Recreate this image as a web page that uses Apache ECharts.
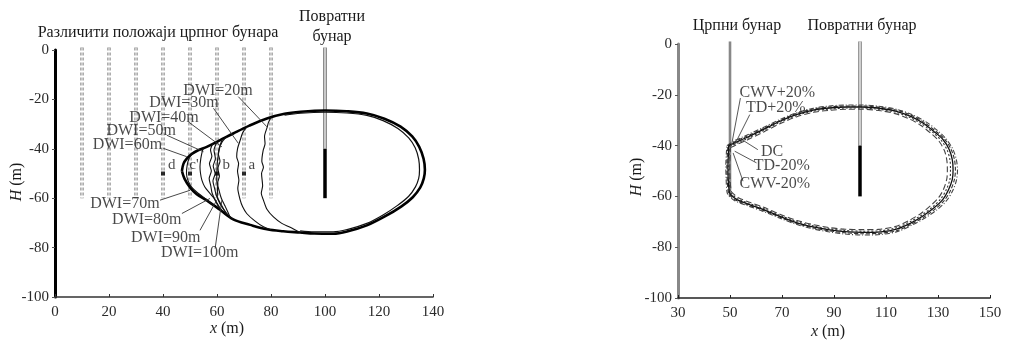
<!DOCTYPE html>
<html>
<head>
<meta charset="utf-8">
<script src="https://cdn.jsdelivr.net/npm/echarts@6/dist/echarts.min.js"></script>
<style>
  html, body { margin: 0; padding: 0; background: #fff; }
  #chart { width: 1011px; height: 342px; }
</style>
</head>
<body>
<div id="chart"></div>
<script>
// ---------- Panel (a): different pumping-well positions ----------
const wellXLeft = [10, 20, 30, 40, 50, 60, 70, 80];       // candidate pumping wells
const wellTop = 1, wellBottom = -60;
const markerX = [40, 50, 60, 70];                           // well markers d, c, b, a
const markerY = -50;
const markerNames = ['d', "c'", 'b', 'a'];
const returnWellX = 100;
const screenTop = -40, screenBottom = -60;

// outer envelope of the thermal plume (closed loop, nose at x≈47)
const outerLoop = [
  [47,-49],[47.6,-46],[48.8,-44],[50.5,-42.2],[53,-40.6],[56.2,-39.2],[61,-36.6],[66,-33.8],
  [72,-30.6],[78.5,-27.7],[85,-25.8],[91,-25],[100,-24.5],[108,-24.8],[115.5,-25.7],[122,-27.8],
  [128,-31],[132.3,-35],[134.9,-39.2],[136.5,-44],[137,-48.5],[136.6,-52],[135.3,-55.6],
  [132.5,-59.6],[128.2,-63.4],[122,-67.5],[115.5,-71],[108.5,-73.4],[103,-74.4],[96,-74.3],
  [90.8,-73.9],[84.5,-73.4],[78.5,-72.6],[72.3,-70.8],[66,-68.6],[61,-64.6],[56.2,-60.9],
  [52.5,-58.4],[50,-55.6],[48,-52.2],[47,-49]
];
// slightly inner right-hand envelope
const innerRight = [
  [85,-26.4],[91,-25.6],[100,-25.2],[108,-25.5],[115.5,-26.5],[121.5,-28.6],[127,-31.8],
  [131,-35.6],[133.4,-39.6],[134.7,-44.2],[135,-48.6],[134.7,-52],[133.5,-55.4],[131,-59.2],
  [127,-62.8],[121.5,-66.8],[115.5,-70.2],[108.5,-72.6],[103,-73.6],[96,-73.6],[90.8,-73.2]
];
// fronts of the individual DWI contours
const front20 = [[80,-27.2],[79,-29.5],[78.6,-31.2],[77.6,-35],[77.8,-38],[77.1,-40.6],[76.6,-45],[77.2,-47.5],[76.5,-50],[76.9,-55],[76.4,-58],[77.2,-60.8],[78.5,-64.5],[80.9,-67.6],[84,-70.2],[87.1,-71.8],[90.8,-73.9]];
const front30 = [[71,-31.1],[69.5,-33.5],[68.6,-36.5],[67.6,-40],[67.3,-43.2],[68,-46],[67.6,-49],[68.1,-52.7],[67.7,-56],[68.6,-60.8],[69.5,-63.5],[71,-66.2],[74,-69.2],[77.2,-71.6],[80,-72.8]];
const front40 = [[63.5,-35.2],[61.8,-37.4],[60.9,-40],[60.2,-44.6],[60,-48],[59.9,-52.7],[60.2,-56],[60.1,-59.4],[61,-62],[62.4,-64.4],[64,-66.6],[66,-68.6]];
const front50 = [[55,-39.7],[54.5,-41.2],[54,-44],[53.7,-47.3],[53.9,-50],[54.4,-52.7],[55.5,-55.5],[57.4,-58.1],[59,-60.2],[61,-64.6]];
const front70 = [[51,-41.9],[49.6,-44],[48.9,-47],[48.7,-50],[49.3,-53],[50.6,-55.5],[53,-58],[56,-60.4],[59,-63]];
const front80 = [[58.5,-37.9],[57.6,-40.5],[58.1,-43],[57.2,-46],[57.9,-49],[57.1,-52],[57.7,-55],[58.2,-58],[59.5,-61],[62,-65.4]];
const front90 = [[60,-37.2],[58.9,-40.5],[59.4,-44],[58.6,-47],[59.3,-50],[58.5,-53],[59.1,-56],[59.8,-59],[61.5,-62.5],[63.5,-66.6]];
const front100 = [[62,-36.1],[61,-39],[60.5,-42],[61.1,-45],[60.3,-48],[60.9,-51],[60.2,-54],[60.8,-57],[61.6,-60],[63,-63.2],[65,-68]];

// DWI annotations: text, text anchor, leader start, leader end
const dwiLabels = ['DWI=20m','DWI=30m','DWI=40m','DWI=50m','DWI=60m','DWI=70m','DWI=80m','DWI=90m','DWI=100m'];
const dwiAnchor = [[60.4,-16.5],[47.8,-21.4],[40.4,-27.3],[31.9,-32.7],[26.8,-38.5],[25.9,-62.4],[34,-68.9],[41,-75.9],[53.6,-82.2]];
const dwiLeader = [
  [[67.9,-18.9],[78.5,-31.1]], [[58.7,-23.6],[67.9,-37.8]], [[49.4,-29.1],[61.8,-39.2]],
  [[41.4,-34.5],[55,-41.2]],   [[40.1,-39.8],[48.8,-43.2]], [[38.9,-60.8],[50,-56.8]],
  [[47,-66.2],[57.4,-60.1]],   [[53.7,-73],[59.9,-60.8]],   [[59.3,-80.4],[61.8,-60.8]]
];
const letterPos = [[43.2,-46.6],[51.5,-46.6],[63.4,-46.6],[72.9,-46.6]];

// ---------- Panel (b): sensitivity of the plume ----------
const pumpWellRight = 50;
const contourDC = [[49.5,-40],[52,-38.8],[56,-37],[62.7,-33.7],[69,-30.5],[75.5,-27.8],[82,-26],[88.3,-25.2],[95,-24.8],[101,-24.8],[108,-25.4],[114,-26.5],[119.5,-28.5],[124.2,-31.1],[128.5,-34.5],[131.9,-37.6],[134.3,-41.5],[135.5,-45.5],[135.8,-49.5],[135.5,-53.3],[134,-57.5],[131.9,-61.2],[128.5,-64.5],[124.2,-67.7],[119.5,-70.5],[114,-72.9],[108,-74],[101,-74.2],[94,-73.9],[88.3,-73.2],[82,-72],[75.5,-70.3],[69,-67.8],[62.7,-65.1],[57,-63],[52.5,-61.2],[50.5,-59.5],[49.8,-58.5],[49.3,-53],[49.2,-48.1],[49.4,-43],[49.5,-40]];
const contourCWVp = [[48.8,-40],[51.5,-38.2],[55.5,-36.3],[62.5,-33],[69,-29.8],[75.5,-27.1],[82,-25.3],[88.3,-24.4],[95,-24],[101,-24],[108,-24.6],[114.5,-25.8],[120,-27.8],[125,-30.4],[129.5,-33.8],[133,-37.2],[135.6,-41.2],[137,-45.3],[137.5,-49.5],[137.1,-53.6],[135.6,-57.9],[133.2,-61.8],[129.6,-65.3],[125,-68.5],[120,-71.3],[114.5,-73.8],[108,-75],[101,-75.2],[94,-74.8],[88.3,-74],[82,-72.8],[75.5,-71],[69,-68.5],[62.5,-65.8],[56.5,-63.6],[52,-61.8],[49.8,-60],[48.9,-58.5],[48.5,-53],[48.4,-48],[48.6,-43],[48.8,-40]];
const contourTDp = [[49.2,-40.2],[51.8,-38.5],[55.8,-36.6],[62.6,-33.4],[69,-30.2],[75.5,-27.4],[82,-25.6],[88.3,-24.8],[95,-24.4],[101,-24.4],[108,-25],[114.3,-26.1],[119.8,-28.1],[124.6,-30.8],[129,-34.2],[132.5,-37.4],[135,-41.4],[136.3,-45.4],[136.7,-49.5],[136.3,-53.4],[134.8,-57.7],[132.5,-61.5],[129,-64.9],[124.6,-68.1],[119.8,-70.9],[114.3,-73.4],[108,-74.5],[101,-74.7],[94,-74.3],[88.3,-73.6],[82,-72.4],[75.5,-70.6],[69,-68.1],[62.6,-65.4],[56.8,-63.3],[52.2,-61.5],[50.2,-59.8],[49.4,-58.5],[48.9,-53],[48.8,-48],[49,-43],[49.2,-40.2]];
const contourTDm = [[49.8,-40.4],[52.3,-39.2],[56.3,-37.4],[62.8,-34.1],[69,-30.9],[75.5,-28.2],[82,-26.4],[88.3,-25.6],[95,-25.2],[101,-25.2],[108,-25.8],[113.8,-26.9],[119.2,-28.9],[123.8,-31.5],[128,-34.8],[131.2,-37.9],[133.5,-41.7],[134.6,-45.6],[134.8,-49.5],[134.6,-53.2],[133.2,-57.3],[131.2,-60.8],[128,-64.1],[123.8,-67.3],[119.2,-70],[113.8,-72.4],[108,-73.5],[101,-73.7],[94,-73.4],[88.3,-72.8],[82,-71.6],[75.5,-69.9],[69,-67.4],[62.8,-64.7],[57.2,-62.7],[52.8,-60.9],[50.8,-59.2],[50.1,-58.3],[49.6,-53],[49.5,-48],[49.7,-43],[49.8,-40.4]];
const contourCWVm = [[50.2,-40.8],[52.6,-39.6],[56.6,-37.8],[63,-34.6],[69.2,-31.4],[75.5,-28.7],[82,-26.9],[88.3,-26.1],[95,-25.7],[101,-25.7],[108,-26.3],[113.5,-27.4],[118.8,-29.4],[123.3,-32],[127.3,-35.2],[130.4,-38.3],[132.5,-42],[133.4,-45.8],[133.6,-49.5],[133.4,-53],[132.2,-57],[130.3,-60.4],[127.2,-63.6],[123.3,-66.8],[118.8,-69.5],[113.5,-71.9],[108,-72.9],[101,-73.1],[94,-72.9],[88.3,-72.3],[82,-71.1],[75.5,-69.4],[69.2,-67],[63,-64.3],[57.5,-62.3],[53.2,-60.5],[51.2,-58.9],[50.5,-58],[50,-53],[49.9,-48],[50.1,-43],[50.2,-40.8]];

const caseLabels = ['CWV+20%','TD+20%','DC','TD-20%','CWV-20%'];
const caseAnchor = [[68.2,-19.1],[67.6,-25.1],[66.2,-42.6],[69.9,-48.1],[67.2,-55]];
const caseLeader = [
  [[54,-21.3],[50.5,-40.3]], [[57.6,-27.8],[51.8,-39.6]], [[60.7,-41.6],[54.5,-37.6]],
  [[60.2,-46.8],[51.8,-42.2]], [[55,-54],[51.2,-42.9]]
];

// ---------- drawing ----------
const SERIF = '"Liberation Serif", "DejaVu Serif", serif';
const chart = echarts.init(document.getElementById('chart'), null, { renderer: 'canvas' });

function path(idx, data, lineStyle, z, smooth) {
  return {
    type: 'line', xAxisIndex: idx, yAxisIndex: idx, data: data,
    symbol: 'none', smooth: smooth || 0, clip: false, silent: true,
    lineStyle: lineStyle, z: z || 2, animation: false
  };
}
function texts(idx, names, anchors, size) {
  return {
    type: 'scatter', xAxisIndex: idx, yAxisIndex: idx, symbolSize: 0, silent: true, z: 6,
    animation: false,
    data: names.map((n, i) => ({ value: anchors[i], name: n })),
    label: { show: true, position: 'inside', formatter: '{b}', color: '#1a1a1a',
             fontFamily: SERIF, fontSize: size }
  };
}

const series = [];
// candidate pumping wells: double dashed lines
wellXLeft.forEach(x => {
  series.push(path(0, [[x, wellTop], [x, wellBottom]], { color: '#777', width: 3.2, type: [3, 2] }, 1));
  series.push(path(0, [[x, wellTop], [x, wellBottom]], { color: '#fff', width: 1.2 }, 1));
});
// return well (left)
series.push(path(0, [[returnWellX, wellTop], [returnWellX, screenTop]], { color: '#666', width: 3.5 }, 3));
series.push(path(0, [[returnWellX, wellTop], [returnWellX, screenTop]], { color: '#fff', width: 1.3 }, 3));
series.push(path(0, [[returnWellX, screenTop], [returnWellX, screenBottom]], { color: '#000', width: 3.5 }, 3));
// plume contours (left)
series.push(path(0, outerLoop, { color: '#000', width: 2.6 }, 4, 0.35));
series.push(path(0, innerRight, { color: '#111', width: 1.2 }, 4, 0.35));
[front20, front30, front40, front50, front70, front80, front90, front100].forEach(f => {
  series.push(path(0, f, { color: '#111', width: 1.1 }, 4, 0.25));
});
// leader lines (left)
dwiLeader.forEach(seg => series.push(path(0, seg, { color: '#333', width: 0.9 }, 5)));
// well markers
series.push({
  type: 'scatter', xAxisIndex: 0, yAxisIndex: 0, symbol: 'rect', symbolSize: 4,
  itemStyle: { color: '#000' }, silent: true, z: 5, animation: false,
  data: markerX.map(x => [x, markerY])
});
series.push(texts(0, dwiLabels, dwiAnchor, 16));
series.push(texts(0, markerNames, letterPos, 15));

// right panel wells
series.push(path(1, [[pumpWellRight, wellTop], [pumpWellRight, screenBottom]], { color: '#888', width: 2.6 }, 1));
series.push(path(1, [[returnWellX, wellTop], [returnWellX, screenTop]], { color: '#777', width: 3.5 }, 3));
series.push(path(1, [[returnWellX, wellTop], [returnWellX, screenTop]], { color: '#fff', width: 1.3 }, 3));
series.push(path(1, [[returnWellX, screenTop], [returnWellX, screenBottom]], { color: '#000', width: 3.5 }, 3));
// sensitivity contours
series.push(path(1, contourCWVp, { color: '#444', width: 1.1, type: [5, 2, 1, 2] }, 4, 0.3));
series.push(path(1, contourTDp, { color: '#333', width: 1.1, type: [4, 2] }, 4, 0.3));
series.push(path(1, contourDC, { color: '#111', width: 1.3 }, 4, 0.3));
series.push(path(1, contourTDm, { color: '#333', width: 1.1, type: [2, 2] }, 4, 0.3));
series.push(path(1, contourCWVm, { color: '#444', width: 1.1, type: [6, 3] }, 4, 0.3));
caseLeader.forEach(seg => series.push(path(1, seg, { color: '#444', width: 0.9 }, 5)));
series.push(texts(1, caseLabels, caseAnchor, 16));

const axisLabel = { color: '#2a2a2a', fontFamily: SERIF, fontSize: 15 };
function xAx(idx, min, max, lineColor) {
  return {
    type: 'value', gridIndex: idx, min: min, max: max, interval: 20,
    splitLine: { show: false },
    axisLine: { onZero: false, lineStyle: { color: lineColor, width: 1.6 } },
    axisTick: { inside: true, length: 3, lineStyle: { color: lineColor } },
    axisLabel: Object.assign({ margin: 8 }, axisLabel)
  };
}
function yAx(idx, lineColor, width) {
  return {
    type: 'value', gridIndex: idx, min: -100, max: 0, interval: 20,
    splitLine: { show: false },
    axisLine: { onZero: false, lineStyle: { color: lineColor, width: width } },
    axisTick: { length: 3, lineStyle: { color: '#555' } },
    axisLabel: Object.assign({ margin: 6 }, axisLabel)
  };
}

const axisNameRich = { i: { fontStyle: 'italic', fontFamily: SERIF, fontSize: 16, fill: '#222' } };
function gtext(x, y, text, size, rotation) {
  return {
    type: 'text', x: x, y: y, rotation: rotation || 0, silent: true,
    style: { text: text, fill: '#1a1a1a', font: size + 'px ' + SERIF,
             textAlign: 'center', textVerticalAlign: 'middle',
             align: 'center', verticalAlign: 'middle', rich: axisNameRich }
  };
}

chart.setOption({
  animation: false,
  backgroundColor: '#fff',
  grid: [
    { left: 55, top: 50, width: 378, height: 247 },
    { left: 678, top: 44, width: 312, height: 254 }
  ],
  xAxis: [xAx(0, 0, 140, '#333'), xAx(1, 30, 150, '#222')],
  yAxis: [yAx(0, '#000', 3), yAx(1, '#888', 3)],
  series: series,
  graphic: [
    gtext(158, 33, 'Различити положаји црпног бунара', 16),
    gtext(332, 17, 'Повратни', 16),
    gtext(332, 37, 'бунар', 16),
    gtext(737, 26, 'Црпни бунар', 16),
    gtext(862, 26, 'Повратни бунар', 16),
    gtext(227, 329, '{i|x} (m)', 16),
    gtext(828, 332, '{i|x} (m)', 16),
    gtext(17, 182, '{i|H} (m)', 16, Math.PI / 2),
    gtext(637, 177, '{i|H} (m)', 16, Math.PI / 2)
  ]
});
</script>
</body>
</html>
